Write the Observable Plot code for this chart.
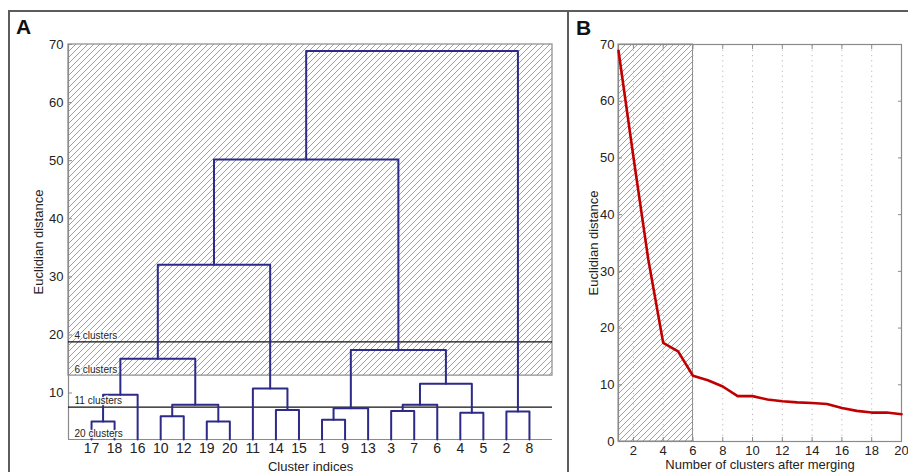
<!DOCTYPE html>
<html><head><meta charset="utf-8">
<script src="https://cdn.jsdelivr.net/npm/d3@7"></script>
<script src="https://cdn.jsdelivr.net/npm/@observablehq/plot@0.6"></script>
<style>
body{margin:0;background:#fff;}
#wrap{position:relative;width:908px;height:472px;overflow:hidden;background:#fff;font-family:"Liberation Sans",Arial,sans-serif;}
.pl{position:absolute;top:0;}
.frame{position:absolute;background:#5c5c5c;}
.tag{position:absolute;font-weight:bold;font-size:21px;line-height:1;color:#111;}
</style></head><body><div id="wrap"></div>
<script>
// ---- Panel A: dendrogram data ----
const leafOrder = [17,18,16,10,12,19,20,11,14,15,1,9,13,3,7,6,4,5,2,8];
// node ids 1-20 are leaves, merge k creates node 21+k
const mergeLeft   = [17,19,1,10,4,2,3,14,23,27,24,21,11,30,32,29,35,37,38];
const mergeRight  = [18,20,9,12,5,8,7,15,13,6,22,16,28,25,31,34,33,36,26];
const mergeHeight = [5.1,5.1,5.4,6.0,6.6,6.8,6.9,7.1,7.4,8.0,8.0,9.7,10.8,11.6,15.9,17.4,32.1,50.2,68.9];
const cutLevels = [18.8, 13.0, 7.56, 2];
const cutLabels = ["4 clusters","6 clusters","11 clusters","20 clusters"];
const yTicksA = [10,20,30,40,50,60,70];
const yDomainA = [2,70];

// ---- Panel B: merge distance data ----
const clusterCount  = [1,2,3,4,5,6,7,8,9,10,11,12,13,14,15,16,17,18,19,20];
const mergeDistance = [68.9,50.2,32.1,17.4,15.9,11.6,10.8,9.7,8.0,8.0,7.4,7.1,6.9,6.8,6.6,5.9,5.4,5.1,5.1,4.8];
const xTicksB = [2,4,6,8,10,12,14,16,18,20];
const yTicksB = [0,10,20,30,40,50,60,70];
const hatchedUpTo = 6;

const font = {fontFamily: '"Liberation Sans", Arial, sans-serif', fontSize: "13px", color: "#222", background: "transparent", overflow: "visible"};
const navy = "#2d2a88";
const axisGray = "#8a8a8a";

function addHatch(svg, id) {
  const ns = "http://www.w3.org/2000/svg";
  const defs = document.createElementNS(ns, "defs");
  defs.innerHTML = `<pattern id="${id}" patternUnits="userSpaceOnUse" width="6" height="6">
    <rect width="6" height="6" fill="#fff"/>
    <path d="M-1,1 l2,-2 M0,6 l6,-6 M5,7 l2,-2" stroke="#a0a0a0" stroke-width="1"/></pattern>`;
  svg.insertBefore(defs, svg.firstChild);
}

// build dendrogram branch paths
const nodeX = new Map(), nodeY = new Map();
leafOrder.forEach((id, i) => { nodeX.set(id, i + 1); nodeY.set(id, yDomainA[0]); });
const branches = [];
mergeHeight.forEach((h, k) => {
  const a = mergeLeft[k], b = mergeRight[k];
  const xa = nodeX.get(a), xb = nodeX.get(b);
  branches.push({m: k, x: xa, y: nodeY.get(a)}, {m: k, x: xa, y: h}, {m: k, x: xb, y: h}, {m: k, x: xb, y: nodeY.get(b)});
  nodeX.set(21 + k, (xa + xb) / 2); nodeY.set(21 + k, h);
});
const cuts = cutLevels.map((v, i) => ({v, label: cutLabels[i]}));
const xMaxA = leafOrder.length + 1;

const plotA = Plot.plot({
  width: 568, height: 472,
  marginLeft: 68, marginRight: 16, marginTop: 44, marginBottom: 33,
  style: font,
  x: {domain: [0, xMaxA]},
  y: {domain: yDomainA},
  marks: [
    Plot.rect([{y1: cutLevels[1], y2: yDomainA[1]}], {x1: 0, x2: xMaxA, y1: "y1", y2: "y2", fill: "url(#hatchA)", stroke: axisGray, strokeWidth: 1.2}),
    Plot.ruleX([0], {y1: yDomainA[0], y2: yDomainA[1], stroke: axisGray, strokeWidth: 1.2}),
    Plot.ruleY([yDomainA[0]], {x1: 0, x2: xMaxA, stroke: axisGray, strokeWidth: 1.2}),
    Plot.ruleY([cutLevels[0], cutLevels[2]], {x1: 0, x2: xMaxA, stroke: "#111", strokeWidth: 1.3}),
    Plot.line(branches, {x: "x", y: "y", z: "m", stroke: navy, strokeWidth: 2, curve: "linear"}),
    Plot.text(cuts, {x: 0, y: "v", text: "label", textAnchor: "start", lineAnchor: "bottom", dx: 6, dy: -3, fontSize: 10, fill: "#222", stroke: "white", strokeWidth: 2.5, strokeOpacity: 0.9}),
    Plot.axisY(yTicksA, {tickSize: -4, tickPadding: 9, stroke: axisGray, label: "Euclidian distance", labelAnchor: "center", labelArrow: "none", labelOffset: 35, fontSize: 13}),
    Plot.axisX(d3.range(1, xMaxA), {tickSize: 0, tickPadding: 4, tickFormat: i => leafOrder[i - 1], label: null, fontSize: 14}),
    Plot.axisX([], {tickSize: 0, label: "Cluster indices", labelAnchor: "center", labelArrow: "none", labelOffset: 31, fontSize: 13})
  ]
});
addHatch(plotA, "hatchA");

const lineData = clusterCount.map((c, i) => ({c, d: mergeDistance[i]}));
const plotB = Plot.plot({
  width: 340, height: 472,
  marginLeft: 50, marginRight: 7, marginTop: 44, marginBottom: 31,
  style: font,
  x: {domain: [1, 20]},
  y: {domain: [0, 70]},
  marks: [
    Plot.rect([{x2: hatchedUpTo}], {x1: 1, x2: "x2", y1: 0, y2: 70, fill: "url(#hatchB)", stroke: axisGray, strokeWidth: 1}),
    Plot.ruleX(xTicksB.filter(t => t < 20), {y1: 0, y2: 70, stroke: "#b8b8b8", strokeDasharray: "1.2,4", strokeWidth: 1}),
    Plot.frame({stroke: axisGray, strokeWidth: 1.2}),
    Plot.axisX(xTicksB, {tickSize: -4, tickPadding: 8, stroke: axisGray, label: "Number of clusters after merging", labelAnchor: "center", labelArrow: "none", labelOffset: 27, fontSize: 13}),
    Plot.axisX(xTicksB, {anchor: "top", tickSize: -4, stroke: axisGray, tickFormat: () => "", label: null}),
    Plot.axisY(yTicksB, {tickSize: -4, tickPadding: 8, stroke: axisGray, label: "Euclidian distance", labelAnchor: "center", labelArrow: "none", labelOffset: 30, fontSize: 13}),
    Plot.axisY(yTicksB, {anchor: "right", tickSize: -4, stroke: axisGray, tickFormat: () => "", label: null}),
    Plot.line(lineData, {x: "c", y: "d", stroke: "#c00000", strokeWidth: 2.6, strokeLinejoin: "round"})
  ]
});
addHatch(plotB, "hatchB");

const wrap = document.getElementById("wrap");
plotA.classList.add("pl"); plotA.style.left = "0px";
plotB.classList.add("pl"); plotB.style.left = "568px";
wrap.appendChild(plotA); wrap.appendChild(plotB);

function frameLine(l, t, w, h) {
  const d = document.createElement("div"); d.className = "frame";
  Object.assign(d.style, {left: l + "px", top: t + "px", width: w + "px", height: h + "px"});
  wrap.appendChild(d);
}
frameLine(8, 10, 900, 2);
frameLine(8, 10, 2, 462);
frameLine(567, 10, 2, 462);
function tag(txt, l, t) {
  const d = document.createElement("div"); d.className = "tag"; d.textContent = txt;
  d.style.left = l + "px"; d.style.top = t + "px"; wrap.appendChild(d);
}
tag("A", 16, 16);
tag("B", 576, 17);
</script></body></html>
